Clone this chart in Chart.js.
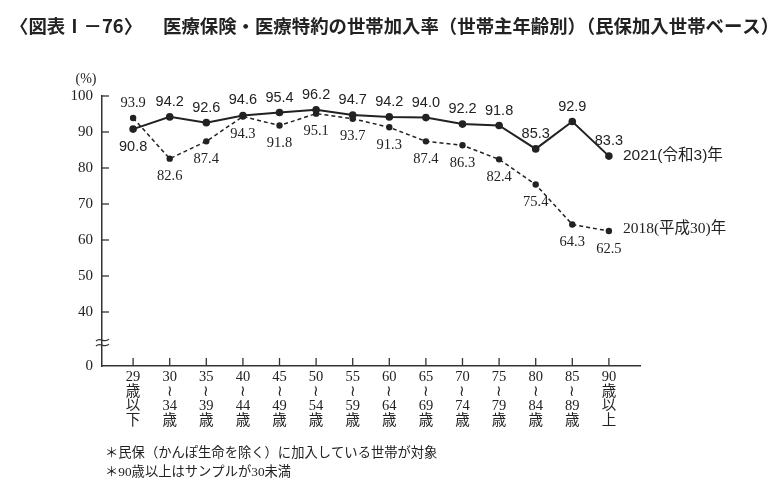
<!DOCTYPE html>
<html>
<head>
<meta charset="utf-8">
<script src="https://cdn.jsdelivr.net/npm/chart.js@4"></script>
<style>
  html, body { margin: 0; padding: 0; background: #fff; }
</style>
</head>
<body>
<canvas id="chart" width="782" height="490"></canvas>
<script>
// age groups (stacked vertical labels)
var ages = [
  ["29", "歳", "以", "下"],
  ["30", "≀", "34", "歳"],
  ["35", "≀", "39", "歳"],
  ["40", "≀", "44", "歳"],
  ["45", "≀", "49", "歳"],
  ["50", "≀", "54", "歳"],
  ["55", "≀", "59", "歳"],
  ["60", "≀", "64", "歳"],
  ["65", "≀", "69", "歳"],
  ["70", "≀", "74", "歳"],
  ["75", "≀", "79", "歳"],
  ["80", "≀", "84", "歳"],
  ["85", "≀", "89", "歳"],
  ["90", "歳", "以", "上"]
];
var rate2021 = [90.8, 94.2, 92.6, 94.6, 95.4, 96.2, 94.7, 94.2, 94.0, 92.2, 91.8, 85.3, 92.9, 83.3];
var rate2018 = [93.9, 82.6, 87.4, 94.3, 91.8, 95.1, 93.7, 91.3, 87.4, 86.3, 82.4, 75.4, 64.3, 62.5];
var yTicks = [0, 40, 50, 60, 70, 80, 90, 100];
var seriesNames = ["2021(令和3)年", "2018(平成30)年"];
var titleParts = ["〈図表Ⅰ－76〉", "医療保険・医療特約の世帯加入率（世帯主年齢別）（民保加入世帯ベース）"];
var notes = ["＊民保（かんぽ生命を除く）に加入している世帯が対象", "＊90歳以上はサンプルが30未満"];

// axis is broken between 0 and 40: "0" is drawn at this value
var zeroAt = 25;

var ink = "#222";
var serif = "'Liberation Serif', 'Noto Sans CJK JP', serif";
var sans = "'Liberation Sans', 'Noto Sans CJK JP', sans-serif";

function pts(arr) {
  return arr.map(function (v, i) { return { x: i, y: v }; });
}

var decor = {
  id: "decor",
  afterDraw: function (chart) {
    var c = chart.ctx, xs = chart.scales.x, ys = chart.scales.y, area = chart.chartArea;
    c.save();
    c.strokeStyle = "#333";
    c.lineWidth = 1.3;
    // inner ticks on y axis
    yTicks.forEach(function (v) {
      if (v === 0) return;
      var y = ys.getPixelForValue(v);
      c.beginPath(); c.moveTo(area.left, y); c.lineTo(area.left + 7, y); c.stroke();
    });
    // inner ticks on x axis
    ages.forEach(function (a, i) {
      var x = xs.getPixelForValue(i);
      c.beginPath(); c.moveTo(x, area.bottom); c.lineTo(x, area.bottom - 8); c.stroke();
    });
    // break mark
    var by = ys.getPixelForValue(31.5);
    [-2.5, 2.5].forEach(function (d) {
      c.beginPath();
      c.moveTo(area.left - 6, by + d + 1);
      c.bezierCurveTo(area.left - 2, by + d - 4, area.left + 2, by + d + 4, area.left + 7, by + d - 1);
      c.stroke();
    });

    c.fillStyle = ink;
    c.textBaseline = "middle";

    // title
    c.textAlign = "left";
    c.font = "bold 18.4px 'Noto Sans CJK JP', sans-serif";
    c.fillText(titleParts[0], 10, 26);
    c.fillText(titleParts[1], 163, 26);

    c.textAlign = "center";
    c.font = "14px " + serif;
    c.fillText("(%)", area.left - 16, 79);

    // value labels
    var sets = [rate2021, rate2018];
    sets.forEach(function (vals, d) {
      var meta = chart.getDatasetMeta(d);
      c.font = d === 0 ? "14.5px " + sans : "14.5px " + serif;
      vals.forEach(function (v, i) {
        var other = sets[1 - d][i];
        var p = meta.data[i];
        var dy = v >= other ? -15 : 18;
        c.fillText(v.toFixed(1), p.x, p.y + dy);
      });
      var last = meta.data[vals.length - 1];
      c.textAlign = "left";
      c.font = d === 0 ? "15.5px " + sans : "15.5px " + serif;
      c.fillText(seriesNames[d], last.x + 14, last.y - (d === 0 ? 0 : 2));
      c.textAlign = "center";
    });

    // footnotes
    c.textAlign = "left";
    c.font = "13.3px " + serif;
    notes.forEach(function (n, k) {
      c.fillText(n, area.left + 3, 454 + k * 19);
    });
    c.restore();
  }
};

new Chart(document.getElementById("chart"), {
  type: "line",
  data: {
    datasets: [{
      label: seriesNames[0],
      data: pts(rate2021),
      borderColor: ink,
      borderWidth: 2,
      pointRadius: 3.8,
      pointBackgroundColor: ink,
      pointBorderWidth: 0,
      clip: false
    }, {
      label: seriesNames[1],
      data: pts(rate2018),
      borderColor: ink,
      borderWidth: 1.5,
      borderDash: [4, 3],
      pointRadius: 3.2,
      pointBackgroundColor: ink,
      pointBorderWidth: 0,
      clip: false
    }]
  },
  options: {
    responsive: false,
    animation: false,
    devicePixelRatio: 1,
    layout: { padding: { left: 10, right: 142, top: 96, bottom: 0 } },
    plugins: {
      legend: { display: false },
      tooltip: { enabled: false },
      title: { display: false }
    },
    scales: {
      x: {
        type: "linear",
        min: -0.85,
        max: 13.85,
        afterBuildTicks: function (axis) {
          axis.ticks = ages.map(function (a, i) { return { value: i }; });
        },
        afterFit: function (axis) { axis.height = 124; },
        ticks: {
          autoSkip: false,
          maxRotation: 0,
          padding: 4,
          color: ink,
          font: { family: serif, size: 14.5, lineHeight: 1.0 },
          callback: function (v) { return ages[v]; }
        },
        grid: { display: false, drawTicks: false },
        border: { display: true, color: "#333", width: 1.5 }
      },
      y: {
        min: zeroAt,
        max: 100,
        afterBuildTicks: function (axis) {
          axis.ticks = yTicks.map(function (v) { return { value: v === 0 ? zeroAt : v }; });
        },
        afterFit: function (axis) { axis.width = 92; },
        ticks: {
          padding: 9,
          color: ink,
          font: { family: serif, size: 15 },
          callback: function (v) { return v === zeroAt ? "0" : v; }
        },
        grid: { display: false, drawTicks: false },
        border: { display: true, color: "#333", width: 1.5 }
      }
    }
  },
  plugins: [decor]
});
</script>
</body>
</html>
